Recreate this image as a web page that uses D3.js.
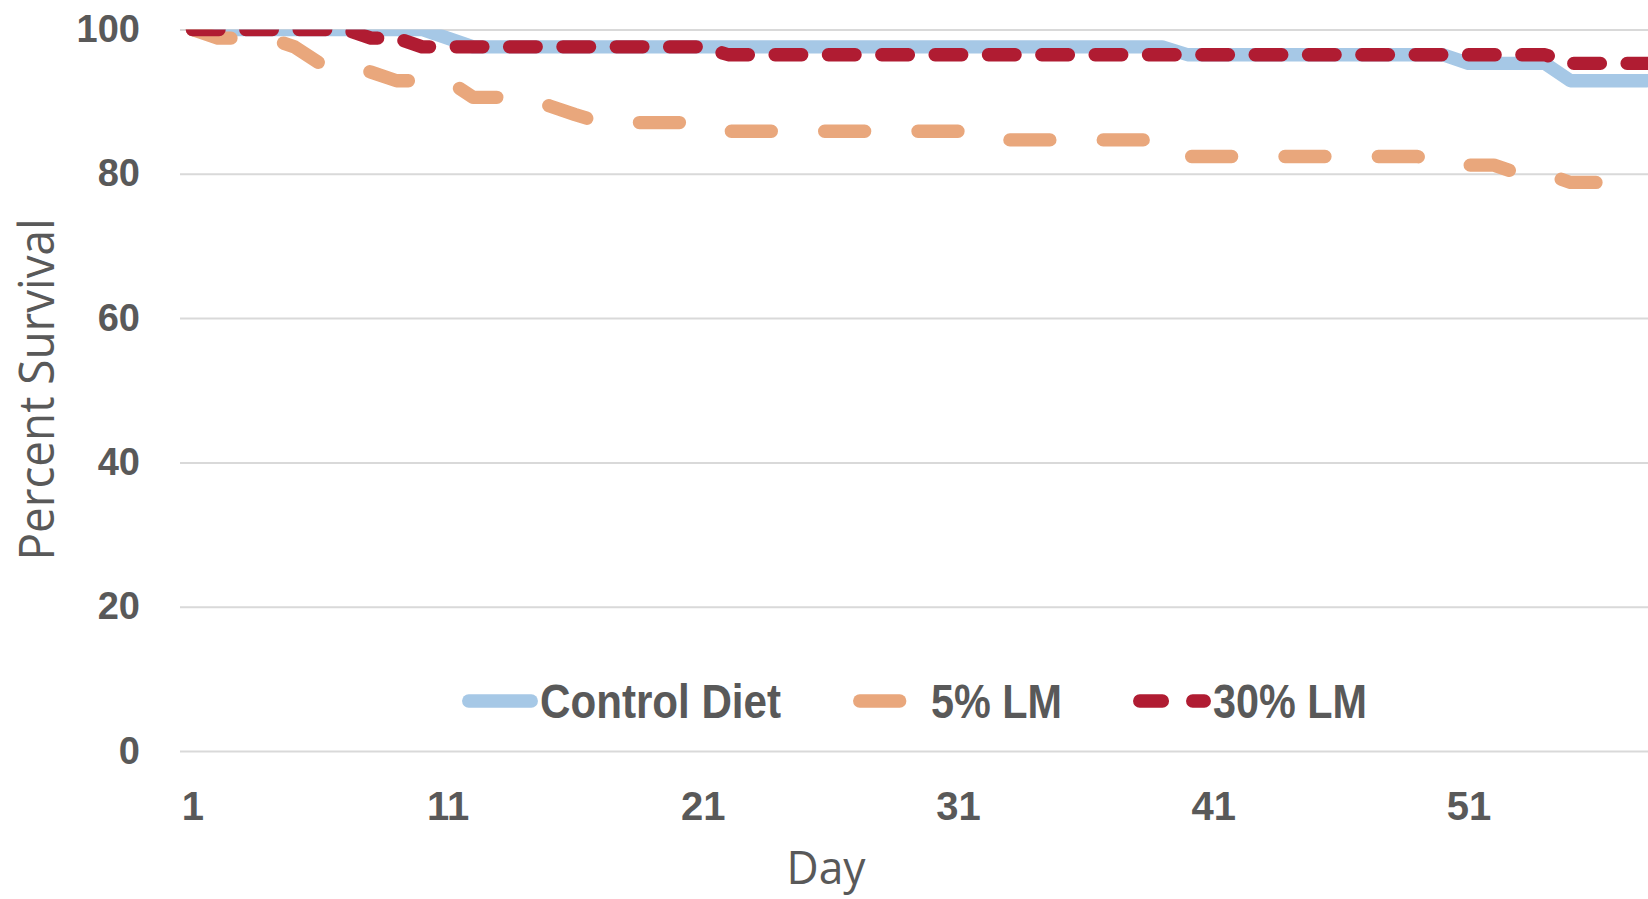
<!DOCTYPE html>
<html>
<head>
<meta charset="utf-8">
<script src="https://cdn.jsdelivr.net/npm/d3@7"></script>
<style>
  html, body { margin: 0; padding: 0; background: #ffffff; }
  svg { display: block; }
</style>
</head>
<body>
<svg id="chart" width="1648" height="899"></svg>
<script>
// Survival by day for each diet group (percent of animals alive)
const days = d3.range(1, 59);

const controlDiet = [
  100, 100, 100, 100, 100, 100, 100, 100, 100, 100,
  98.8,
  97.6, 97.6, 97.6, 97.6, 97.6, 97.6, 97.6, 97.6, 97.6, 97.6,
  97.6, 97.6, 97.6, 97.6, 97.6, 97.6, 97.6, 97.6, 97.6, 97.6,
  97.6, 97.6, 97.6, 97.6, 97.6, 97.6, 97.6, 97.6,
  96.5, 96.5, 96.5, 96.5, 96.5, 96.5, 96.5, 96.5, 96.5, 96.5, 96.5,
  95.3, 95.3, 95.3, 95.3,
  92.9, 92.9, 92.9, 92.9
];

const lm5 = [
  100,
  98.8, 98.8, 98.8,
  97.6,
  95.3, 95.3,
  94.1,
  92.9, 92.9, 92.9,
  90.6, 90.6, 90.6,
  89.4,
  88.2,
  87.1, 87.1, 87.1, 87.1, 87.1,
  85.9, 85.9, 85.9, 85.9, 85.9, 85.9, 85.9, 85.9, 85.9, 85.9,
  84.7, 84.7, 84.7, 84.7, 84.7, 84.7, 84.7, 84.7,
  82.4, 82.4, 82.4, 82.4, 82.4, 82.4, 82.4, 82.4, 82.4, 82.4,
  81.2, 81.2, 81.2,
  80.0, 80.0,
  78.8, 78.8
];

const lm30 = [
  100, 100, 100, 100, 100, 100, 100,
  98.8, 98.8,
  97.6, 97.6, 97.6, 97.6, 97.6, 97.6, 97.6, 97.6, 97.6, 97.6, 97.6, 97.6,
  96.5, 96.5, 96.5, 96.5, 96.5, 96.5, 96.5, 96.5, 96.5, 96.5, 96.5,
  96.5, 96.5, 96.5, 96.5, 96.5, 96.5, 96.5, 96.5, 96.5, 96.5, 96.5,
  96.5, 96.5, 96.5, 96.5, 96.5, 96.5, 96.5, 96.5, 96.5, 96.5, 96.5,
  95.3, 95.3, 95.3, 95.3
];

const seriesNames = ["Control Diet", "5% LM", "30% LM"];
const yTickValues = [0, 20, 40, 60, 80, 100];
const xTickDays = [1, 11, 21, 31, 41, 51];

// ---- layout ----
const W = 1648, H = 899;
const plotLeft = 180, plotTop = 29.5, plotBottom = 751;
const textColor = "#595959";
const lineWidth = 13.33;

// dash lengths are given for round caps (each cap adds half the stroke width)
const styles = [
  { color: "#A6C8E6", dash: null,          legendDash: null },
  { color: "#E9A77C", dash: "40 53.33",    legendDash: "40 53.33" },
  { color: "#B01C32", dash: "26.67 26.67", legendDash: "22.7 30.3" }
];

const svg = d3.select("#chart");
svg.append("rect").attr("width", W).attr("height", H).attr("fill", "#ffffff");

const x = d3.scaleLinear().domain([1, 58]).range([192.4, 1647.04]);
const y = d3.scaleLinear().domain([0, 100]).range([plotBottom, plotTop]);

// horizontal gridlines + value labels
const yAxis = svg.append("g")
  .attr("transform", `translate(${plotLeft},0)`)
  .call(d3.axisLeft(y).tickValues(yTickValues).tickSize(-(W - plotLeft)).tickPadding(40));
yAxis.select(".domain").remove();
yAxis.selectAll(".tick line").attr("stroke", "#D9D9D9").attr("stroke-width", 2);
yAxis.selectAll(".tick text")
  .attr("fill", textColor)
  .attr("font-family", "'Liberation Sans', Arial, sans-serif")
  .attr("font-weight", "bold")
  .attr("font-size", 38);

// day labels
const xAxis = svg.append("g")
  .attr("transform", `translate(0,${plotBottom})`)
  .call(d3.axisBottom(x).tickValues(xTickDays).tickSize(0).tickPadding(40.5).tickFormat(d3.format("d")));
xAxis.select(".domain").remove();
xAxis.selectAll(".tick text")
  .attr("fill", textColor)
  .attr("font-family", "'Liberation Sans', Arial, sans-serif")
  .attr("font-weight", "bold")
  .attr("font-size", 40);

// series lines, clipped to the plot area
svg.append("clipPath").attr("id", "plotClip")
  .append("rect")
  .attr("x", plotLeft).attr("y", plotTop)
  .attr("width", W - plotLeft).attr("height", plotBottom - plotTop + 40);

const line = d3.line()
  .x((d, i) => x(days[i]))
  .y(d => y(d));

const seriesData = [controlDiet, lm5, lm30];
const lines = svg.append("g").attr("clip-path", "url(#plotClip)");
seriesData.forEach((vals, k) => {
  const p = lines.append("path")
    .datum(vals)
    .attr("d", line)
    .attr("fill", "none")
    .attr("stroke", styles[k].color)
    .attr("stroke-width", lineWidth)
    .attr("stroke-linecap", "round")
    .attr("stroke-linejoin", "round");
  if (styles[k].dash) p.attr("stroke-dasharray", styles[k].dash);
});

// legend
const legendY = 701, legendBaseline = 718;
const legendItems = [
  { x0: 468.7, x1: 531.3, tx: 540,  tw: 241 },
  { x0: 859.7, x1: 922.3, tx: 931,  tw: 131 },
  { x0: 1139.7, x1: 1204.3, tx: 1213, tw: 154 }
];
const legend = svg.append("g");
legendItems.forEach((it, k) => {
  const s = legend.append("line")
    .attr("x1", it.x0).attr("x2", it.x1)
    .attr("y1", legendY).attr("y2", legendY)
    .attr("stroke", styles[k].color)
    .attr("stroke-width", lineWidth)
    .attr("stroke-linecap", "round");
  if (styles[k].legendDash) s.attr("stroke-dasharray", styles[k].legendDash);
  legend.append("text")
    .attr("x", it.tx).attr("y", legendBaseline)
    .attr("fill", textColor)
    .attr("font-family", "'Liberation Sans', Arial, sans-serif")
    .attr("font-weight", "bold")
    .attr("font-size", 48)
    .attr("textLength", it.tw)
    .attr("lengthAdjust", "spacingAndGlyphs")
    .text(seriesNames[k]);
});

// axis titles
svg.append("text")
  .attr("transform", "translate(54,389.5) rotate(-90)")
  .attr("text-anchor", "middle")
  .attr("fill", textColor)
  .attr("font-family", "'Open Sans', 'Liberation Sans', sans-serif")
  .attr("font-weight", 400)
  .attr("font-size", 49)
  .attr("textLength", 342)
  .attr("lengthAdjust", "spacingAndGlyphs")
  .text("Percent Survival");

svg.append("text")
  .attr("x", 826).attr("y", 884)
  .attr("text-anchor", "middle")
  .attr("fill", textColor)
  .attr("font-family", "'Open Sans', 'Liberation Sans', sans-serif")
  .attr("font-weight", 400)
  .attr("font-size", 46)
  .attr("textLength", 79)
  .attr("lengthAdjust", "spacingAndGlyphs")
  .text("Day");
</script>
</body>
</html>
